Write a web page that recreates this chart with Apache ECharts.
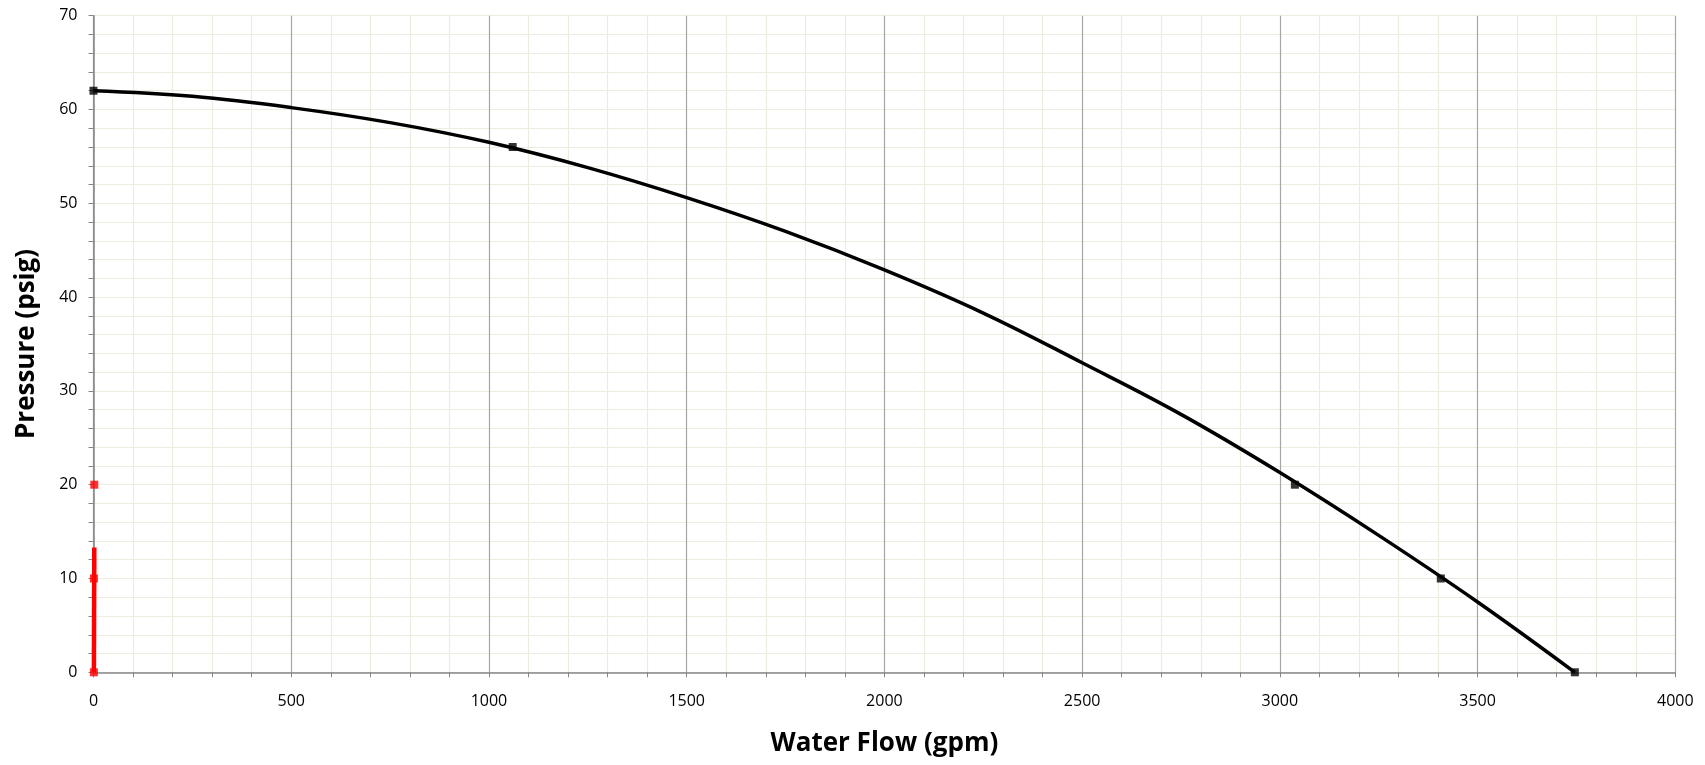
<!DOCTYPE html>
<html>
<head>
<meta charset="utf-8">
<style>
  html, body { margin: 0; padding: 0; background: #ffffff; }
  #chart { width: 1705px; height: 765px; }
</style>
<script src="https://cdn.jsdelivr.net/npm/echarts@6/dist/echarts.min.js"></script>
</head>
<body>
<div id="chart"></div>
<script>
// Pump curve (gpm, psig)
const curveFlow = [0, 250, 500, 750, 1000, 1250, 1500, 1750, 2000, 2250, 2500, 2750, 3000, 3250, 3500, 3746];
const curvePressure = [62, 61.4, 60.2, 58.6, 56.5, 53.8, 50.6, 47.0, 42.9, 38.3, 33.0, 27.5, 21.3, 14.6, 7.5, 0];

// Pump data points (markers)
const pumpFlow = [0, 1060, 3038, 3407, 3746];
const pumpPressure = [62, 56, 20, 10, 0];

// Red series
const redLineFlow = [2, 1];
const redLinePressure = [13.3, 0];
const redPointFlow = [2, 1, 1];
const redPointPressure = [20, 10, 0];

const xTicks = [0, 500, 1000, 1500, 2000, 2500, 3000, 3500, 4000];
const yTicks = [0, 10, 20, 30, 40, 50, 60, 70];

function pairs(xs, ys) { return xs.map((x, i) => [x, ys[i]]); }

const chart = echarts.init(document.getElementById('chart'), null, { renderer: 'canvas' });
const font = "'Open Sans', 'DejaVu Sans', sans-serif";
const beige = '#EEEBDF';
const grey = '#868686';

chart.setOption({
  animation: false,
  backgroundColor: '#ffffff',
  grid: { left: 93.5, right: 29.7, top: 15.7, bottom: 92.7, containLabel: false },
  xAxis: {
    type: 'value',
    min: xTicks[0],
    max: xTicks[xTicks.length - 1],
    interval: 500,
    name: 'Water Flow (gpm)',
    nameLocation: 'middle',
    nameGap: 58,
    nameTextStyle: { fontFamily: font, fontWeight: 'bold', fontSize: 26, color: '#000' },
    axisLine: { show: true, onZero: false, lineStyle: { color: grey, width: 1.5 } },
    axisTick: { show: true, length: 5, lineStyle: { color: grey, width: 1 } },
    minorTick: { show: true, splitNumber: 5, length: 5, lineStyle: { color: grey, width: 1 } },
    axisLabel: { fontFamily: font, fontSize: 16, color: '#000', margin: 21, formatter: v => String(v) },
    splitLine: { show: true, lineStyle: { color: '#A6A6A6', width: 1.2 } },
    minorSplitLine: { show: true, lineStyle: { color: beige, width: 1.2 } }
  },
  yAxis: {
    type: 'value',
    min: yTicks[0],
    max: yTicks[yTicks.length - 1],
    interval: 10,
    name: 'Pressure (psig)',
    nameLocation: 'middle',
    nameGap: 54,
    nameTextStyle: { fontFamily: font, fontWeight: 'bold', fontSize: 26, color: '#000' },
    axisLine: { show: true, onZero: false, lineStyle: { color: grey, width: 1.5 } },
    axisTick: { show: true, length: 5, lineStyle: { color: grey, width: 1 } },
    minorTick: { show: true, splitNumber: 5, length: 5, lineStyle: { color: grey, width: 1 } },
    axisLabel: { fontFamily: font, fontSize: 16, color: '#000', margin: 16, formatter: v => String(v) },
    splitLine: { show: true, lineStyle: { color: beige, width: 1.2 } },
    minorSplitLine: { show: true, lineStyle: { color: beige, width: 1.2 } }
  },
  series: [
    {
      name: 'Pump curve',
      type: 'line',
      data: pairs(curveFlow, curvePressure),
      smooth: 0.4,
      showSymbol: false,
      lineStyle: { color: '#000', width: 3.5 },
      z: 3
    },
    {
      name: 'Pump points',
      type: 'scatter',
      data: pairs(pumpFlow, pumpPressure),
      symbol: 'rect',
      symbolSize: 8,
      itemStyle: { color: '#000' },
      clip: false,
      z: 4
    },
    {
      name: 'Red line',
      type: 'line',
      data: pairs(redLineFlow, redLinePressure),
      showSymbol: false,
      lineStyle: { color: '#FF0000', width: 4.5 },
      clip: false,
      z: 5
    },
    {
      name: 'Red points',
      type: 'scatter',
      data: pairs(redPointFlow, redPointPressure),
      symbol: 'rect',
      symbolSize: 8,
      itemStyle: { color: '#FF0000' },
      clip: false,
      z: 6
    }
  ]
});
</script>
</body>
</html>
